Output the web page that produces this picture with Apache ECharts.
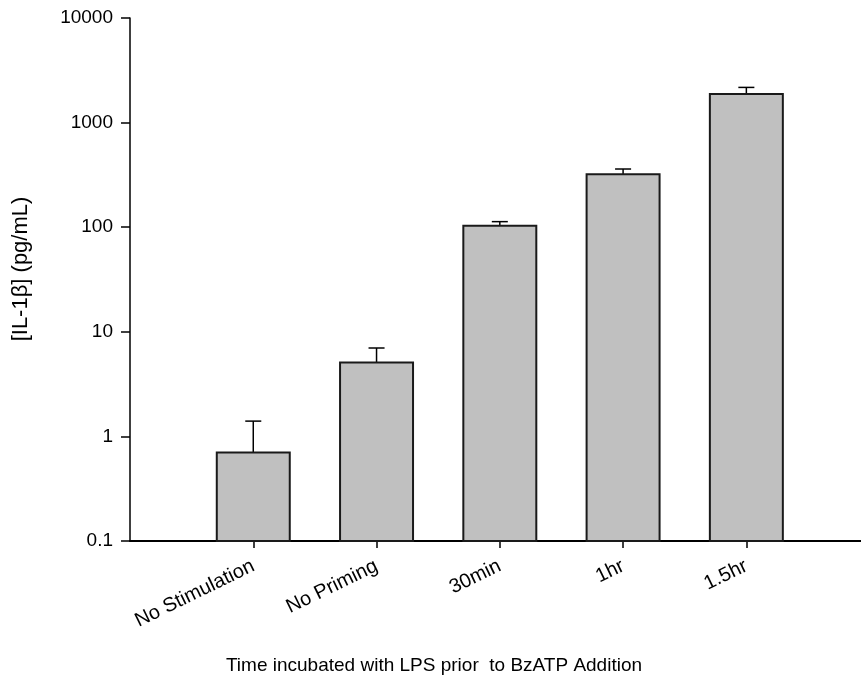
<!DOCTYPE html>
<html>
<head>
<meta charset="utf-8">
<script src="https://cdn.jsdelivr.net/npm/echarts@6/dist/echarts.min.js"></script>
<style>
html,body{margin:0;padding:0;background:#fff;}
#chart{width:861px;height:682px;}
</style>
</head>
<body>
<div id="chart"></div>
<script>
const categories = ['No Stimulation', 'No Priming', '30min', '1hr', '1.5hr'];
const means = [0.7, 5.1, 103, 320, 1880];
const errors = [0.7, 1.9, 10, 40, 290];
const yTicks = [0.1, 1, 10, 100, 1000, 10000];
const xTitle = 'Time incubated with LPS prior  to BzATP Addition';
const yTitle = '[IL-1\u03b2] (pg/mL)';

const chart = echarts.init(document.getElementById('chart'));
const FONT = '"Liberation Sans", Arial, sans-serif';

const data = categories.map((c, i) => [i + 1, means[i], errors[i]]);
const catPositions = categories.map((c, i) => i + 1);

chart.setOption({
  animation: false,
  backgroundColor: '#ffffff',
  grid: { left: 130, top: 18, right: 0, bottom: 141, containLabel: false },
  xAxis: {
    type: 'value',
    min: 0,
    max: 5.93,
    interval: 1,
    splitLine: { show: false },
    axisLine: { show: true, lineStyle: { color: '#000', width: 2 } },
    axisTick: { show: true, length: 7, customValues: catPositions, lineStyle: { color: '#000', width: 1.5 } },
    axisLabel: {
      rotate: 26,
      margin: 24,
      color: '#000',
      fontFamily: FONT,
      fontSize: 20,
      customValues: catPositions,
      formatter: v => categories[Math.round(v) - 1] || ''
    }
  },
  yAxis: {
    type: 'log',
    logBase: 10,
    min: yTicks[0],
    max: yTicks[yTicks.length - 1],
    splitLine: { show: false },
    axisLine: { show: true, lineStyle: { color: '#000', width: 1.5 } },
    axisTick: { show: true, length: 9, inside: false, lineStyle: { color: '#000', width: 1.5 } },
    minorTick: { show: false },
    axisLabel: {
      margin: 17,
      color: '#000',
      fontFamily: FONT,
      fontSize: 19,
      formatter: v => String(v)
    }
  },
  graphic: [
    {
      type: 'text',
      x: 434, y: 666,
      style: { text: xTitle, fill: '#000', font: '19px ' + FONT, textAlign: 'center', textVerticalAlign: 'middle' }
    },
    {
      type: 'text',
      x: 21, y: 269,
      rotation: Math.PI / 2,
      style: { text: yTitle, fill: '#000', font: '22px ' + FONT, textAlign: 'center', textVerticalAlign: 'middle' }
    }
  ],
  series: [{
    type: 'custom',
    data: data,
    encode: { x: 0, y: 1 },
    clip: false,
    renderItem: function (params, api) {
      const x = api.value(0), v = api.value(1), e = api.value(2);
      const hw = 0.296;
      const capHw = 0.065;
      const tl = api.coord([x - hw, v]);
      const br = api.coord([x + hw, yTicks[0]]);
      const top = api.coord([x, v]);
      const errTop = api.coord([x, v + e]);
      const capL = api.coord([x - capHw, v + e]);
      const capR = api.coord([x + capHw, v + e]);
      return {
        type: 'group',
        children: [
          { type: 'line', shape: { x1: top[0], y1: top[1], x2: errTop[0], y2: errTop[1] }, style: { stroke: '#000', lineWidth: 1.5 } },
          { type: 'line', shape: { x1: capL[0], y1: capL[1], x2: capR[0], y2: capR[1] }, style: { stroke: '#000', lineWidth: 1.5 } },
          { type: 'rect', shape: { x: tl[0], y: tl[1], width: br[0] - tl[0], height: br[1] - tl[1] }, style: { fill: '#c0c0c0', stroke: '#1a1a1a', lineWidth: 2 } }
        ]
      };
    }
  }]
});
</script>
</body>
</html>
